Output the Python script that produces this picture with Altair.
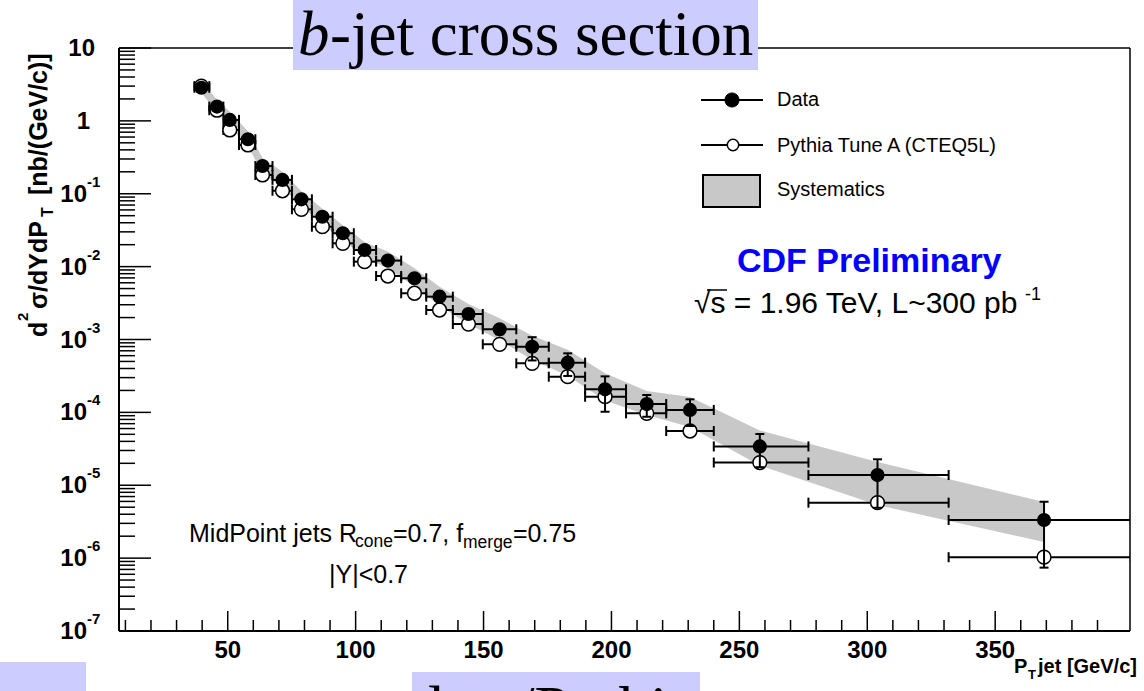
import altair as alt
import pandas as pd

SANS = "Liberation Sans"
SERIF = "Liberation Serif"

# ---- b-jet cross section measurement (|Y|<0.7) ----
pt_center = [39.7, 45.8, 50.8, 57.9, 63.6, 71.4, 78.8, 87.0, 95.0, 103.5, 112.6, 123.0,
             132.8, 144.1, 156.3, 169.0, 182.9, 197.5, 213.8, 230.7, 258.0, 304.0, 369.1]
pt_low = [37, 42.8, 48.3, 54.4, 60.8, 67.5, 75.1, 82.9, 91, 99.3, 108, 117.8,
          127.6, 138.0, 149.7, 162.8, 175.5, 189.7, 205.7, 221.4, 240.0, 277.0, 331.8]
pt_high = [42.8, 48.3, 54.4, 60.8, 67.5, 75.1, 82.9, 91, 99.3, 108, 117.8, 127.6,
           138.0, 149.7, 162.8, 175.5, 189.7, 205.7, 221.4, 240.0, 277.0, 331.8, 403]

data_xsec = [2.85, 1.57, 1.03, 0.56, 0.240, 0.155, 0.0839, 0.0484, 0.0287, 0.0169, 0.0121, 0.00692,
             0.00387, 0.00224, 0.00138, 0.000796, 0.000481, 0.000207, 0.000130, 0.000108,
             3.41e-5, 1.38e-5, 3.34e-6]
data_stat = [0.11, 0.06, 0.04, 0.022, 0.010, 0.006, 0.0034, 0.0019, 0.0012, 0.0007, 0.0005, 0.0003,
             0.00017, 0.00022, 0.0002, 0.00028, 0.000165, 0.000105, 0.000043, 0.000043,
             1.64e-5, 8.9e-6, 2.6e-6]
pythia_xsec = [3.0, 1.40, 0.75, 0.467, 0.181, 0.110, 0.0612, 0.0353, 0.0209, 0.0117, 0.00743, 0.00431,
               0.00254, 0.00163, 0.000859, 0.000471, 0.000309, 0.000164, 9.71e-5, 5.55e-5,
               2.05e-5, 5.77e-6, 1.03e-6]
syst_upper = [3.45, 1.96, 1.33, 0.721, 0.309, 0.200, 0.108, 0.0623, 0.0370, 0.0218, 0.0161, 0.00949,
              0.00531, 0.00307, 0.00195, 0.00113, 0.000725, 0.000343, 0.000196, 0.000163,
              5.65e-5, 2.08e-5, 5.9e-6]
syst_lower = [2.43, 1.30, 0.825, 0.449, 0.192, 0.124, 0.0672, 0.0388, 0.0230, 0.0135, 0.00939, 0.00537,
              0.00291, 0.00163, 0.000975, 0.000528, 0.000319, 0.000146, 9.18e-5, 6.31e-5,
              1.87e-5, 5.35e-6, 1.67e-6]

# ---- axis ticks and labels ----
x_major = [50, 100, 150, 200, 250, 300, 350]
x_minor = [v for v in range(10, 410, 10) if v % 50]
y_decades = [1e-7, 1e-6, 1e-5, 1e-4, 1e-3, 1e-2, 1e-1, 1.0, 10.0]
y_exponents = ["-7", "-6", "-5", "-4", "-3", "-2", "-1"]
y_minor = [k * d for d in y_decades[:-1] for k in range(2, 10)]

# ---- frame geometry (pixels) ----
L, T = 119, 48
W, H = 1011, 583
GREY = "#c8c8c8"
LAVENDER = "#ccccff"

xsc = alt.Scale(domain=[7.5, 402.7], nice=False, zero=False)
ysc = alt.Scale(type="log", domain=[1e-7, 10], nice=False)


def X(f):
    return alt.X(f, type="quantitative", scale=xsc, axis=None)


def Y(f):
    return alt.Y(f, type="quantitative", scale=ysc, axis=None)


df = pd.DataFrame({
    "pt": pt_center, "lo": pt_low, "hi": pt_high,
    "data": data_xsec, "stat": data_stat, "pythia": pythia_xsec,
    "s_up": syst_upper, "s_dn": syst_lower,
})
df["d_up"] = df["data"] + df["stat"]
df["d_dn"] = df["data"] - df["stat"]

ONE = alt.Data(values=[{"k": 0}])


def text(s, x, y, size, font=SANS, weight="normal", style="normal", align="left",
         color="black", angle=0):
    return alt.Chart(ONE).mark_text(
        text=s, font=font, fontSize=size, fontWeight=weight, fontStyle=style,
        align=align, baseline="alphabetic", color=color, angle=angle,
    ).encode(x=alt.value(x - L), y=alt.value(y - T))


def rect(x0, y0, x1, y1, fill, stroke=None, sw=0):
    kw = {"fill": fill}
    if stroke:
        kw.update(stroke=stroke, strokeWidth=sw)
    return alt.Chart(ONE).mark_rect(**kw).encode(
        x=alt.value(x0 - L), x2=alt.value(x1 - L), y=alt.value(y0 - T), y2=alt.value(y1 - T))


def seg(x0, y0, x1, y1, sw=2):
    return alt.Chart(ONE).mark_rule(color="black", strokeWidth=sw).encode(
        x=alt.value(x0 - L), x2=alt.value(x1 - L), y=alt.value(y0 - T), y2=alt.value(y1 - T))


def dot(x, y, size, fill, sw=1.5):
    return alt.Chart(ONE).mark_circle(fill=fill, stroke="black", strokeWidth=sw,
                                      size=size, opacity=1).encode(
        x=alt.value(x - L), y=alt.value(y - T))


base = alt.Chart(df)

# systematic band
band = base.mark_area(color=GREY, opacity=1, clip=True).encode(x=X("pt"), y=Y("s_dn"), y2="s_up")

# Pythia: bin-width bars, caps, open markers
py_bar = base.mark_rule(color="black", strokeWidth=2, clip=True).encode(x=X("lo"), x2="hi", y=Y("pythia"))
py_cap_l = base.mark_tick(orient="vertical", size=10, thickness=2, color="black", opacity=1,
                          clip=True).encode(x=X("lo"), y=Y("pythia"))
py_cap_r = base.mark_tick(orient="vertical", size=10, thickness=2, color="black", opacity=1,
                          clip=True).encode(x=X("hi"), y=Y("pythia"))
py_pts = base.mark_circle(fill="white", stroke="black", strokeWidth=1.5, size=190, opacity=1,
                          clip=True).encode(x=X("pt"), y=Y("pythia"))

# Data: bin-width bars, statistical errors, filled markers
d_bar = base.mark_rule(color="black", strokeWidth=2, clip=True).encode(x=X("lo"), x2="hi", y=Y("data"))
d_cap_l = base.mark_tick(orient="vertical", size=10, thickness=2, color="black", opacity=1,
                         clip=True).encode(x=X("lo"), y=Y("data"))
d_cap_r = base.mark_tick(orient="vertical", size=10, thickness=2, color="black", opacity=1,
                         clip=True).encode(x=X("hi"), y=Y("data"))
d_err = base.mark_rule(color="black", strokeWidth=2, clip=True).encode(x=X("pt"), y=Y("d_dn"), y2="d_up")
d_cap_u = base.mark_tick(orient="horizontal", size=9, thickness=2, color="black", opacity=1,
                         clip=True).encode(x=X("pt"), y=Y("d_up"))
d_cap_d = base.mark_tick(orient="horizontal", size=9, thickness=2, color="black", opacity=1,
                         clip=True).encode(x=X("pt"), y=Y("d_dn"))
d_pts = base.mark_circle(color="black", size=200, opacity=1, clip=True).encode(x=X("pt"), y=Y("data"))

# inward ticks
xmaj = alt.Chart(pd.DataFrame({"v": x_major})).mark_rule(color="black", strokeWidth=1.5).encode(
    x=X("v"), y=alt.value(H), y2=alt.value(H - 20))
xmin = alt.Chart(pd.DataFrame({"v": x_minor})).mark_rule(color="black", strokeWidth=1.5).encode(
    x=X("v"), y=alt.value(H), y2=alt.value(H - 11))
ymaj = alt.Chart(pd.DataFrame({"v": y_decades})).mark_rule(color="black", strokeWidth=1.5).encode(
    y=Y("v"), x=alt.value(0), x2=alt.value(32))
ymin = alt.Chart(pd.DataFrame({"v": y_minor})).mark_rule(color="black", strokeWidth=1.5).encode(
    y=Y("v"), x=alt.value(0), x2=alt.value(16))

# tick labels
xlab = alt.Chart(pd.DataFrame({"v": x_major, "t": [str(v) for v in x_major]})).mark_text(
    font=SANS, fontSize=24, fontWeight="bold", align="center", baseline="alphabetic").encode(
    x=X("v"), y=alt.value(658 - T), text="t:N")
ylab_df = pd.DataFrame({"v": y_decades[:-2], "e": y_exponents})
ylab_base = alt.Chart(ylab_df).mark_text(
    text="10", font=SANS, fontSize=24, fontWeight="bold", align="right", baseline="alphabetic", dy=8).encode(
    y=Y("v"), x=alt.value(87 - L))
ylab_exp = alt.Chart(ylab_df).mark_text(
    font=SANS, fontSize=15, fontWeight="bold", align="left", baseline="alphabetic", dy=-7).encode(
    y=Y("v"), x=alt.value(87 - L), text="e:N")
ylab_one = alt.Chart(pd.DataFrame({"v": [1.0]})).mark_text(
    text="1", font=SANS, fontSize=24, fontWeight="bold", align="right", baseline="alphabetic", dy=8).encode(
    y=Y("v"), x=alt.value(90 - L))
ylab_ten = alt.Chart(pd.DataFrame({"v": [10.0]})).mark_text(
    text="10", font=SANS, fontSize=24, fontWeight="bold", align="right", baseline="alphabetic", dy=8).encode(
    y=Y("v"), x=alt.value(95 - L))

# frame
frame = [
    seg(L, T, L, T + H, 2), seg(L, T + H, L + W, T + H, 2),
    seg(L, T, L + W, T, 1.5), seg(L + W, T, L + W, T + H, 1.5),
]

# axis titles
ytitle = [
    text("d", 47, 337, 25, weight="bold", angle=270),
    text("2", 28, 321, 15, weight="bold", angle=270),
    text("σ/dYdP", 47, 309, 25, weight="bold", angle=270),
    text("T", 53, 217, 16, weight="bold", angle=270),
    text("[nb/(GeV/c)]", 47, 195, 25, weight="bold", angle=270),
]
xtitle = [
    text("P", 1014, 673, 20, weight="bold"),
    text("T", 1028, 679, 13, weight="bold"),
    text("jet [GeV/c]", 1038, 673, 20, weight="bold"),
]

# legend
legend = [
    seg(701, 100, 763, 100, 2), dot(732, 100, 200, "black", 1),
    text("Data", 777, 106, 20),
    seg(701, 145, 763, 145, 2), dot(733, 145, 130, "white", 1.5),
    text("Pythia Tune A (CTEQ5L)", 777, 152, 20),
    rect(703, 175, 760, 207, GREY, "black", 2),
    text("Systematics", 777, 196, 20),
]

# annotations
notes = [
    text("CDF Preliminary", 737, 272, 34, weight="bold", color="#0000ff"),
    text("√s = 1.96 TeV, L~300 pb", 694, 313, 30),
    seg(707, 290, 727, 290, 1.5),
    text("-1", 1025, 300, 18),
    text("MidPoint jets R", 189, 542, 25),
    text("cone", 355, 547, 17.5),
    text("=0.7, f", 393, 542, 25),
    text("merge", 463, 548, 17.5),
    text("=0.75", 513, 542, 25),
    text("|Y|<0.7", 329, 583, 25),
]

# slide title and banners
title = [
    rect(293, 0, 758, 70, LAVENDER),
    text("b", 298, 55, 63, font=SERIF, style="italic"),
    text("-jet cross section", 330, 55, 63, font=SERIF),
    rect(0, 662, 86, 691, LAVENDER),
    rect(412, 672, 700, 691, LAVENDER),
    text("data/Pythia", 412, 730, 63, font=SERIF),
]

layers = ([band, py_bar, py_cap_l, py_cap_r, py_pts,
           d_bar, d_cap_l, d_cap_r, d_err, d_cap_u, d_cap_d, d_pts,
           xmin, xmaj, ymin, ymaj, xlab, ylab_base, ylab_exp, ylab_one, ylab_ten]
          + frame + ytitle + xtitle + legend + notes + title)

chart = alt.layer(*layers).properties(
    width=W, height=H,
    padding={"left": L, "top": T, "right": 1144 - L - W, "bottom": 691 - T - H},
    autosize=alt.AutoSizeParams(type="none"),
    background="white",
).configure_view(stroke=None)

chart.save("out.html", embed_options={"renderer": "svg", "actions": False})
